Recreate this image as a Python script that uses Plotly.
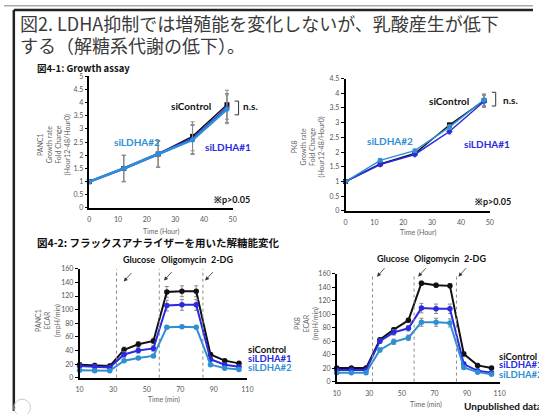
import plotly.graph_objects as go

W, H = 539, 414
def px(x): return x / W
def py(y): return 1 - y / H

# ---------------- data ----------------
hours = [0, 12, 24, 36, 48]
panc1_growth_ctrl = [1.0, 1.5, 2.05, 2.72, 3.92]
panc1_growth_ldha1 = [1.0, 1.5, 2.05, 2.62, 3.80]
panc1_growth_ldha2 = [1.0, 1.5, 2.05, 2.58, 3.75]
panc1_growth_err = [0, 0.5, 0.5, 0.55, 0.55]

pk8_growth_ctrl = [1.0, 1.60, 1.95, 2.92, 3.75]
pk8_growth_ldha1 = [1.0, 1.58, 1.92, 2.70, 3.72]
pk8_growth_ldha2 = [1.0, 1.72, 2.05, 2.85, 3.78]
pk8_growth_err = [0, 0.05, 0.05, 0.08, 0.2]

minutes = [10, 19, 28, 36.5, 45, 54, 62, 71, 79.5, 88, 96.5, 105]
panc1_ecar_ctrl = [19, 18, 17, 41, 49, 54, 126, 127, 127, 34, 25, 21]
panc1_ecar_ldha1 = [17, 16, 15, 34, 40, 43, 106, 107, 107, 27, 19, 16]
panc1_ecar_ldha2 = [11, 10, 10, 25, 29, 32, 74, 75, 74, 19, 14, 12]
panc1_ecar_ctrl_err = [3, 3, 3, 4, 4, 4, 8, 8, 8, 3, 2, 2]
panc1_ecar_ldha1_err = [3, 3, 3, 4, 4, 4, 8, 8, 8, 3, 2, 2]
panc1_ecar_ldha2_err = [2, 2, 2, 2, 2, 2, 2, 2, 2, 2, 2, 2]

pk8_ecar_ctrl = [20, 20, 20, 62, 77, 91, 146, 143, 142, 41, 24, 20]
pk8_ecar_ldha1 = [17, 17, 17, 60, 73, 79, 109, 108, 108, 26, 16, 13]
pk8_ecar_ldha2 = [13, 13, 13, 47, 59, 65, 88, 88, 87, 21, 14, 11]
pk8_ecar_ctrl_err = [2, 2, 2, 3, 3, 3, 3, 3, 3, 3, 2, 2]
pk8_ecar_ldha1_err = [2, 2, 2, 3, 4, 4, 7, 7, 7, 3, 2, 2]
pk8_ecar_ldha2_err = [2, 2, 2, 3, 4, 4, 6, 6, 6, 2, 2, 2]

injection_times = [32, 57.5, 83.5]
injection_labels = ["Glucose", "Oligomycin", "2-DG"]

C_CTRL = "#111111"
C_L1 = "#2a2ae0"
C_L2 = "#2f8fd3"
C_ERR = "#8a8a8a"

fig = go.Figure()

def add_series(xs, ys, err, color, xa, ya, width=2, size=5, symbol="circle"):
    fig.add_trace(go.Scatter(
        x=xs, y=ys, mode="lines+markers", xaxis=xa, yaxis=ya,
        line=dict(color=color, width=width),
        marker=dict(color=color, size=size, symbol=symbol),
        error_y=dict(type="data", array=err, color=C_ERR, thickness=1, width=2),
        cliponaxis=False, showlegend=False, hoverinfo="skip"))

# panel 1
add_series(hours, panc1_growth_ctrl, panc1_growth_err, C_CTRL, "x", "y", width=1.5, symbol="square")
add_series(hours, panc1_growth_ldha1, panc1_growth_err, C_L1, "x", "y", width=2.5)
add_series(hours, panc1_growth_ldha2, panc1_growth_err, C_L2, "x", "y", width=2.5)
# panel 2
add_series(hours, pk8_growth_ctrl, pk8_growth_err, C_CTRL, "x2", "y2", width=1.5, symbol="square")
add_series(hours, pk8_growth_ldha1, pk8_growth_err, C_L1, "x2", "y2", width=1.5, symbol="diamond")
add_series(hours, pk8_growth_ldha2, pk8_growth_err, C_L2, "x2", "y2", width=1.5)
# panel 3
add_series(minutes, panc1_ecar_ctrl, panc1_ecar_ctrl_err, C_CTRL, "x3", "y3", size=5.5)
add_series(minutes, panc1_ecar_ldha1, panc1_ecar_ldha1_err, C_L1, "x3", "y3", size=5.5)
add_series(minutes, panc1_ecar_ldha2, panc1_ecar_ldha2_err, C_L2, "x3", "y3", size=5.5)
# panel 4
add_series(minutes, pk8_ecar_ctrl, pk8_ecar_ctrl_err, C_CTRL, "x4", "y4", size=5.5)
add_series(minutes, pk8_ecar_ldha1, pk8_ecar_ldha1_err, C_L1, "x4", "y4", size=5.5)
add_series(minutes, pk8_ecar_ldha2, pk8_ecar_ldha2_err, C_L2, "x4", "y4", size=5.5)

TICKFONT = dict(size=7, color="#555555", family="Lato")

def xax(x0, x1, y_anchor, rng, dtick, tick0):
    return dict(domain=[px(x0), px(x1)], range=rng, dtick=dtick, tick0=tick0,
                anchor=y_anchor, showline=True, linecolor="black", linewidth=1.5,
                ticks="outside", ticklen=4, tickcolor="rgba(0,0,0,0)",
                tickfont=TICKFONT, showgrid=False, zeroline=False)

def yax(ytop, ybot, x_anchor, rng, dtick):
    return dict(domain=[py(ybot), py(ytop)], range=rng, dtick=dtick,
                anchor=x_anchor, showline=True, linecolor="black", linewidth=1.5,
                ticks="outside", ticklen=3, tickcolor="black", tickwidth=1,
                tickfont=TICKFONT, showgrid=False, zeroline=False)

fig.update_layout(
    width=W, height=H, margin=dict(l=0, r=0, t=0, b=0),
    paper_bgcolor="white", plot_bgcolor="white",
    font=dict(family="Lato", color="#333"),
    xaxis=xax(87, 233, "y", [0, 50], 10, 0),
    yaxis=yax(72.7, 207, "x", [0, 5], 0.5),
    xaxis2=xax(348, 495, "y2", [0, 50], 10, 0),
    yaxis2=yax(75, 210, "x2", [0, 4.5], 0.5),
    xaxis3=xax(77, 248, "y3", [10, 110], 20, 10),
    yaxis3=yax(269, 380, "x3", [0, 160], 20),
    xaxis4=xax(339, 505, "y4", [10, 110], 20, 10),
    yaxis4=yax(274, 384, "x4", [0, 160], 20),
)

shapes = []
# frame
shapes.append(dict(type="line", xref="paper", yref="paper", x0=0, x1=1, y0=py(0.8), y1=py(0.8),
                   line=dict(color="#aaaaaa", width=1.5)))
shapes.append(dict(type="line", xref="paper", yref="paper", x0=px(10), x1=1, y0=py(5), y1=py(5),
                   line=dict(color="#222222", width=2.5)))
shapes.append(dict(type="line", xref="paper", yref="paper", x0=px(10), x1=px(10), y0=py(5), y1=0,
                   line=dict(color="#222222", width=2.5)))
# small logo circle bottom-left
shapes.append(dict(type="circle", xref="paper", yref="paper", x0=px(10), x1=px(27), y0=py(419), y1=py(402),
                   line=dict(color="#cccccc", width=1)))
# injection dotted lines
for xa, ya in (("x3", "y3"), ("x4", "y4")):
    for t in injection_times:
        shapes.append(dict(type="line", xref=xa, yref=ya + " domain", x0=t, x1=t, y0=0, y1=1,
                           line=dict(color="#8a8a8a", width=1, dash="dot")))
# n.s. brackets
shapes.append(dict(type="path", xref="paper", yref="paper",
                   path=f"M {px(235)} {py(98)} L {px(239)} {py(98)} L {px(239)} {py(112)} L {px(235)} {py(112)}",
                   line=dict(color="#333", width=1)))
shapes.append(dict(type="path", xref="paper", yref="paper",
                   path=f"M {px(497)} {py(89)} L {px(501)} {py(89)} L {px(501)} {py(103)} L {px(497)} {py(103)}",
                   line=dict(color="#333", width=1)))
fig.update_layout(shapes=shapes)

ann = []
def text(x, y, s, size=10, color="#111", bold=False, xanchor="left", family="Lato", angle=0):
    if bold:
        s = f"<b>{s}</b>"
    ann.append(dict(x=px(x), y=py(y), xref="paper", yref="paper", text=s, showarrow=False,
                    xanchor=xanchor, yanchor="middle", textangle=angle,
                    font=dict(size=size, color=color, family=family)))

JP = "Noto Sans CJK JP"
# title
text(14, 18, "図2. LDHA抑制では増殖能を変化しないが、乳酸産生が低下", size=18, color="#3a3a3a", family=JP)
text(14, 41, "する（解糖系代謝の低下）。", size=18, color="#3a3a3a", family=JP)
text(32, 64, "図4-1: Growth assay", size=9.5, bold=True, family=JP)
text(32, 242, "図4-2: フラックスアナライザーを用いた解糖能変化", size=10.5, bold=True, family=JP)

# panel 1 labels
text(168, 103, "siControl", bold=True)
text(241, 103, "n.s.", bold=True)
text(110, 140, "siLDHA#2", bold=True, color=C_L2)
text(203, 145, "siLDHA#1", bold=True, color=C_L1)
text(212, 198, "※p>0.05", size=9, bold=True)
# panel 2 labels
text(431, 98, "siControl", bold=True)
text(506, 97, "n.s.", bold=True)
text(368, 139, "siLDHA#2", bold=True, color=C_L2)
text(467, 142, "siLDHA#1", bold=True, color=C_L1)
text(478, 200, "※p>0.05", size=9, bold=True)

# axis titles
GRAY = "#666666"
text(51, 143, "PANC1<br>Growth rate<br>Fold Change<br>(Hour12-48/Hour0)", size=7, color=GRAY, xanchor="center", angle=-90)
text(310, 145, "PK8<br>Growth rate<br>Fold Change<br>(Hour12-48/Hour0)", size=7, color=GRAY, xanchor="center", angle=-90)
text(45, 322, "PANC1<br>ECAR<br>(mpH/min)", size=7, color=GRAY, xanchor="center", angle=-90)
text(308, 325, "PK8<br>ECAR<br>(mpH/min)", size=7, color=GRAY, xanchor="center", angle=-90)
text(160, 231, "Time (Hour)", size=7, color=GRAY, xanchor="center")
text(422, 232, "Time (Hour)", size=7, color=GRAY, xanchor="center")
text(163, 402, "Time (min)", size=7, color=GRAY, xanchor="center")
text(430, 407, "Time (min)", size=7, color=GRAY, xanchor="center")

# injection labels
for cx, lab in zip([138, 183, 222], injection_labels):
    text(cx, 260, lab, size=9, bold=True, xanchor="center")
for cx, lab in zip([396, 441, 480], injection_labels):
    text(cx, 258, lab, size=9, bold=True, xanchor="center")
# arrows
for (tx, ty) in [(122, 282), (163, 281), (205, 281), (380, 277), (422, 277), (463, 277)]:
    ann.append(dict(x=px(tx), y=py(ty), xref="paper", yref="paper", text="", showarrow=True,
                    ax=9, ay=-10, arrowhead=2, arrowsize=1, arrowwidth=0.8, arrowcolor="#333"))

# legends
for y, lab, col in [(351, "siControl", C_CTRL), (360, "siLDHA#1", C_L1), (370, "siLDHA#2", C_L2)]:
    text(247, y, lab, size=9.5, bold=True, color=col)
for y, lab, col in [(358, "siControl", C_CTRL), (367, "siLDHA#1", C_L1), (377, "siLDHA#2", C_L2)]:
    text(502, y, lab, size=9.5, bold=True, color=col)
text(467, 409, "Unpublished data", bold=True)

fig.update_layout(annotations=ann)
fig.write_html("out.html", config={"displayModeBar": False},
               post_script="document.body.style.margin='0px';document.body.style.overflow='hidden';")
